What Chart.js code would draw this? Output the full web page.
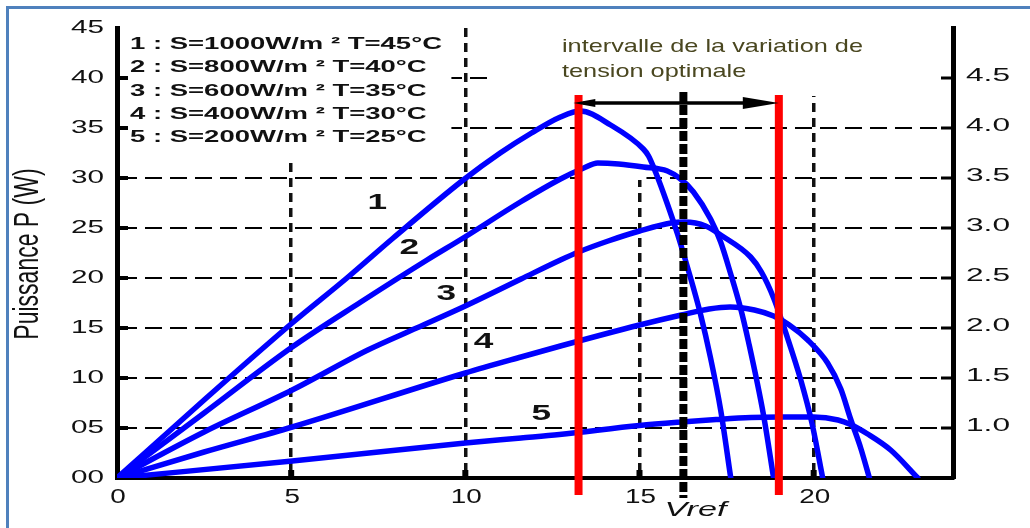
<!DOCTYPE html>
<html>
<head>
<meta charset="utf-8">
<title>Puissance P (W) - tension</title>
<script src="https://cdn.jsdelivr.net/npm/chart.js"></script>
<style>
  html, body { margin: 0; padding: 0; background: #ffffff; }
  canvas { display: block; }
</style>
</head>
<body>
<canvas id="chart" width="1030" height="528"></canvas>
<script>
// Power (W) versus voltage (V) for five irradiance / temperature cases
const curve1V = [0, 2.5, 5.03, 6.6, 7.93, 9.94, 11.0, 11.9, 12.73, 13.3, 14.17, 15.11, 15.26, 15.46, 15.8, 16.1, 16.4, 16.75, 17.04, 17.33, 17.62];
const curve1P = [0, 7.8, 15.5, 20.0, 24.0, 29.8, 32.5, 34.5, 36.1, 36.7, 35.3, 32.9, 32.2, 30.6, 27.4, 24.3, 20.8, 16.4, 12.0, 6.8, 0];

const curve2V = [0, 2.5, 5.03, 7.0, 8.9, 9.94, 11.58, 12.73, 13.4, 13.8, 14.4, 15.11, 15.8, 16.18, 16.55, 17.04, 17.33, 17.61, 17.9, 18.13, 18.56, 18.85];
const curve2P = [0, 6.5, 13.1, 17.6, 21.8, 24.0, 27.6, 29.9, 31.0, 31.5, 31.4, 31.1, 30.7, 29.9, 28.6, 25.9, 23.6, 20.5, 17.0, 13.6, 6.3, 0];

const curve3V = [0, 2.5, 5.03, 7.2, 8.6, 10.0, 11.6, 12.73, 13.25, 14.1, 15.0, 15.9, 16.3, 16.9, 17.33, 18.19, 18.5, 18.85, 19.25, 19.63, 19.95, 20.26];
const curve3P = [0, 4.6, 8.8, 12.8, 15.0, 17.2, 19.9, 21.8, 22.6, 23.7, 24.7, 25.5, 25.6, 25.2, 24.3, 22.1, 20.6, 18.0, 14.0, 9.8, 5.5, 0];

const curve4V = [0, 2.5, 5.03, 10.0, 11.6, 12.73, 15.0, 16.2, 17.0, 17.6, 18.3, 18.85, 19.3, 19.83, 20.4, 20.78, 21.06, 21.35, 21.6];
const curve4P = [0, 2.6, 5.1, 10.5, 12.1, 13.2, 15.3, 16.3, 16.9, 17.1, 16.8, 16.2, 15.3, 13.8, 11.5, 8.9, 5.9, 3.0, 0];

const curve5V = [0, 5.03, 10.0, 11.6, 12.7, 15.0, 16.2, 17.2, 18.2, 19.0, 20.0, 20.7, 21.06, 21.55, 22.21, 22.99];
const curve5P = [0, 1.7, 3.5, 4.0, 4.35, 5.25, 5.6, 5.85, 6.05, 6.1, 6.1, 5.8, 5.35, 4.4, 2.8, 0];

const curveNames = ['1', '2', '3', '4', '5'];
const legendLabels = [
  '1 : S=1000W/m ² T=45°C',
  '2 : S=800W/m ² T=40°C',
  '3 : S=600W/m ² T=35°C',
  '4 : S=400W/m ² T=30°C',
  '5 : S=200W/m ² T=25°C'
];

const xTickValues = [0, 5, 10, 15, 20];
const xTickLabels = ['0', '5', '10', '15', '20'];
const yTickValues = [0, 5, 10, 15, 20, 25, 30, 35, 40, 45];
const yTickLabels = ['00', '05', '10', '15', '20', '25', '30', '35', '40', '45'];
const y2TickValues = [1.0, 1.5, 2.0, 2.5, 3.0, 3.5, 4.0, 4.5];
const y2TickLabels = ['1.0', '1.5', '2.0', '2.5', '3.0', '3.5', '4.0', '4.5'];

// limits of the optimal voltage interval and the reference voltage
const optimalBounds = [13.25, 19.0];
const vref = 16.26;
const vrefLabel = 'Vref';
const intervalText = ['intervalle de la variation de', 'tension optimale'];
const yTitle = 'Puissance P (W)';

const FONT = '"Liberation Sans", Arial, Helvetica, sans-serif';

const curves = [
  [curve1V, curve1P], [curve2V, curve2P], [curve3V, curve3P], [curve4V, curve4P], [curve5V, curve5P]
];

function widthOf(ctx, font, text) {
  ctx.save();
  ctx.font = font;
  const w = ctx.measureText(text).width;
  ctx.restore();
  return w;
}

// text squeezed/stretched horizontally by sx
function drawText(ctx, text, x, y, font, sx, align, color) {
  ctx.save();
  ctx.font = font;
  ctx.fillStyle = color;
  ctx.textAlign = align;
  ctx.textBaseline = 'middle';
  ctx.translate(x, y);
  ctx.scale(sx, 1);
  ctx.fillText(text, 0, 0);
  ctx.restore();
}

const decorations = {
  id: 'decorations',
  beforeDatasetsDraw(chart) {
    const { ctx, chartArea: a, scales: { x, y } } = chart;
    ctx.save();
    ctx.fillStyle = '#ffffff';
    const box = (v0, v1, p0, p1) => {
      const x0 = v0 === null ? a.left + 3 : x.getPixelForValue(v0);
      const x1 = v1 === null ? a.right - 3 : x.getPixelForValue(v1);
      const y0 = p0 === null ? a.top : y.getPixelForValue(p0);
      const y1 = y.getPixelForValue(p1);
      ctx.fillRect(x0, y0, x1 - x0, y1 - y0);
    };
    box(null, 9.6, null, 31.9);      // behind the legend block
    box(10.7, null, null, 38.2);     // behind the interval caption
    box(13.3, 15.2, 38.2, 29.8);     // clear area above the maxima
    ctx.restore();
  },
  afterDatasetsDraw(chart) {
    const { ctx, scales: { x, y } } = chart;
    ctx.save();
    // red limits of the optimal interval
    ctx.fillStyle = '#ff0000';
    const rTop = y.getPixelForValue(38.3), rBot = y.getPixelForValue(-1.7);
    optimalBounds.forEach(v => {
      const px = x.getPixelForValue(v);
      ctx.fillRect(px - 4, rTop, 8, rBot - rTop);
    });
    // reference voltage, thick dashed
    const vx = x.getPixelForValue(vref);
    ctx.strokeStyle = '#000000';
    ctx.lineWidth = 8;
    ctx.setLineDash([10, 3]);
    ctx.beginPath();
    ctx.moveTo(vx, y.getPixelForValue(38.6));
    ctx.lineTo(vx, y.getPixelForValue(-2.0));
    ctx.stroke();
    ctx.setLineDash([]);
    // double arrow spanning the interval
    const ay = y.getPixelForValue(37.5);
    const xl = x.getPixelForValue(13.1);
    const xr = x.getPixelForValue(optimalBounds[1]);
    ctx.lineWidth = 3.5;
    ctx.beginPath();
    ctx.moveTo(xl + 10, ay);
    ctx.lineTo(xr - 20, ay);
    ctx.stroke();
    ctx.fillStyle = '#000000';
    ctx.beginPath();
    ctx.moveTo(xl, ay);
    ctx.lineTo(xl + 22, ay - 4);
    ctx.lineTo(xl + 22, ay + 4);
    ctx.closePath();
    ctx.fill();
    ctx.beginPath();
    ctx.moveTo(xr, ay);
    ctx.lineTo(xr - 36, ay - 6);
    ctx.lineTo(xr - 36, ay + 6);
    ctx.closePath();
    ctx.fill();
    ctx.restore();
  },
  afterDraw(chart) {
    const { ctx, chartArea: a, scales: { x, y, y2 } } = chart;
    ctx.save();
    // inward tick marks
    ctx.fillStyle = '#000000';
    yTickValues.forEach(v => {
      if (v === 0 || v === 45) return;
      const py = y.getPixelForValue(v);
      ctx.fillRect(a.left, py - 2, 11, 4);
    });
    y2TickValues.forEach(v => {
      const py = y2.getPixelForValue(v);
      ctx.fillRect(a.right - 12, py - 1.5, 12, 3);
    });
    xTickValues.forEach(v => {
      if (v === 0) return;
      const px = x.getPixelForValue(v);
      ctx.fillRect(px - 3, a.bottom - 8, 6, 8);
    });

    // left tick labels
    const fl = '19px ' + FONT;
    const sl = 33 / widthOf(ctx, fl, '45');
    yTickValues.forEach((v, i) => {
      drawText(ctx, yTickLabels[i], a.left - 13, y.getPixelForValue(v), fl, sl, 'right', '#111111');
    });
    // right tick labels
    const fr = '18px ' + FONT;
    const sr = 44 / widthOf(ctx, fr, '4.5');
    y2TickValues.forEach((v, i) => {
      drawText(ctx, y2TickLabels[i], a.right + 13, y2.getPixelForValue(v) - 2, fr, sr, 'left', '#111111');
    });
    // bottom tick labels
    const fx = '20px ' + FONT;
    const sxx = 31 / widthOf(ctx, fx, '10');
    xTickValues.forEach((v, i) => {
      drawText(ctx, xTickLabels[i], x.getPixelForValue(v) + 1, a.bottom + 19, fx, sxx, 'center', '#111111');
    });
    // reference voltage label
    const fv = 'italic 21px ' + FONT;
    drawText(ctx, vrefLabel, x.getPixelForValue(vref) + 12, a.bottom + 32, fv, 62 / widthOf(ctx, fv, vrefLabel), 'center', '#111111');

    // vertical axis title
    ctx.save();
    ctx.translate(28, 254);
    ctx.rotate(-Math.PI / 2);
    ctx.scale(1, 1.5);
    ctx.font = '23px ' + FONT;
    ctx.fillStyle = '#111111';
    ctx.textAlign = 'center';
    ctx.textBaseline = 'middle';
    ctx.fillText(yTitle, 0, 0);
    ctx.restore();

    // legend block
    const fg = 'bold 17px ' + FONT;
    const sg = 312 / widthOf(ctx, fg, legendLabels[0]);
    legendLabels.forEach((t, i) => {
      drawText(ctx, t, a.left + 13, a.top + 16.5 + i * 23.3, fg, sg, 'left', '#111111');
    });

    // curve numbers
    const anchors = [[7.47, 27.5], [8.39, 23.0], [9.45, 18.4], [10.52, 13.6], [12.18, 6.4]];
    const fn = 'bold 22px ' + FONT;
    curveNames.forEach((t, i) => {
      drawText(ctx, t, x.getPixelForValue(anchors[i][0]), y.getPixelForValue(anchors[i][1]), fn, 1.6, 'center', '#111111');
    });

    // interval caption
    const fc = '19px ' + FONT;
    const sc = 301 / widthOf(ctx, fc, intervalText[0]);
    intervalText.forEach((t, i) => {
      drawText(ctx, t, 562, 47 + i * 25, fc, sc, 'left', '#4a4720');
    });

    // frame
    ctx.fillStyle = '#4f81bd';
    ctx.fillRect(6, 6, chart.width - 6, 3);
    ctx.fillRect(6, 6, 3, chart.height - 6);
    ctx.restore();
  }
};

new Chart(document.getElementById('chart'), {
  type: 'scatter',
  data: {
    datasets: curves.map(([vs, ps], i) => ({
      label: curveNames[i],
      data: vs.map((v, k) => ({ x: v, y: ps[k] })),
      showLine: true,
      borderColor: '#0000ff',
      borderWidth: 5.5,
      pointRadius: 0,
      pointHoverRadius: 0,
      cubicInterpolationMode: 'monotone',
      borderCapStyle: 'round',
      borderJoinStyle: 'round',
      fill: false
    }))
  },
  options: {
    responsive: false,
    animation: false,
    devicePixelRatio: 1,
    events: [],
    layout: { padding: { top: 28, left: 0, right: 0, bottom: 0 } },
    plugins: { legend: { display: false }, tooltip: { enabled: false } },
    scales: {
      x: {
        type: 'linear',
        min: 0,
        max: 24,
        afterFit: s => { s.height = 50; },
        ticks: { display: false, stepSize: 5 },
        grid: {
          drawTicks: false,
          lineWidth: 3.5,
          color: c => (c.tick && c.tick.value > 0 && c.tick.value < 24) ? '#111111' : 'rgba(0,0,0,0)'
        },
        border: { display: true, color: '#000000', width: 4, dash: [9, 6] }
      },
      y: {
        type: 'linear',
        position: 'left',
        min: 0,
        max: 45,
        afterFit: s => { s.width = 117; },
        ticks: { display: false, stepSize: 5 },
        grid: {
          drawTicks: false,
          lineWidth: 2,
          color: c => (c.tick && c.tick.value > 0 && c.tick.value < 45) ? '#000000' : 'rgba(0,0,0,0)'
        },
        border: { display: true, color: '#000000', width: 5, dash: [17, 8] }
      },
      y2: {
        type: 'linear',
        position: 'right',
        min: 0.5,
        max: 5.0,
        afterFit: s => { s.width = 77; },
        ticks: { display: false, stepSize: 0.5 },
        grid: { drawOnChartArea: false, drawTicks: false },
        border: { display: true, color: '#000000', width: 5 }
      }
    }
  },
  plugins: [decorations]
});
</script>
</body>
</html>
